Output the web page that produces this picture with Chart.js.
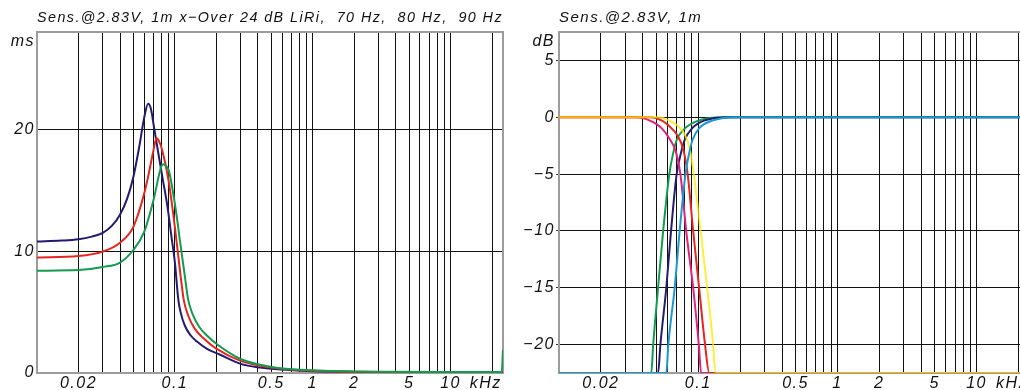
<!DOCTYPE html>
<html>
<head>
<meta charset="utf-8">
<script src="https://cdn.jsdelivr.net/npm/chart.js@4.4.0/dist/chart.umd.min.js"></script>
<style>
  html, body { margin: 0; padding: 0; background: #fff; }
  body { width: 1020px; height: 390px; overflow: hidden; position: relative; }
  canvas { position: absolute; top: 0; }
  #delayChart { left: 0; }
  #levelChart { left: 510px; }
</style>
</head>
<body>
<canvas id="delayChart" width="510" height="390"></canvas>
<canvas id="levelChart" width="510" height="390"></canvas>
<script>
// group delay (ms), one series per x-over frequency
const delayFreq70 = [10, 15, 20, 25, 30, 35, 40, 45, 50, 55, 60, 64, 67, 71, 76, 82, 88, 95, 100, 106, 110, 118, 130, 144, 170, 213, 300, 415, 600, 1000, 2000, 5000, 24000];
const delay70     = [10.8, 10.87, 10.98, 11.2, 11.5, 12.1, 13.0, 14.3, 16.1, 18.5, 21.0, 22.1, 21.7, 20.0, 18.0, 15.8, 13.8, 11.0, 9.1, 6.0, 5.0, 3.9, 3.1, 2.6, 2.0, 1.5, 0.75, 0.45, 0.28, 0.15, 0.09, 0.06, 0.05];
const delayFreq80 = [10, 20, 30, 40, 50, 60, 65, 70, 73.6, 77, 80, 90, 100, 110, 116, 125, 140, 160, 200, 300, 500, 1000, 3000, 24000];
const delay80     = [9.48, 9.6, 9.97, 10.7, 12.0, 14.75, 16.5, 18.3, 19.3, 19.0, 18.5, 15.8, 12.0, 8.0, 6.0, 4.7, 3.6, 2.9, 2.0, 1.0, 0.45, 0.18, 0.09, 0.06];
const delayFreq90 = [10, 20, 30, 40, 50, 60, 70, 80, 83, 86, 90, 100, 110, 118, 125, 135, 150, 170, 200, 300, 500, 1000, 3000, 10000, 23500, 24000];
const delay90     = [8.4, 8.45, 8.7, 9.07, 10.1, 11.6, 14.2, 17.0, 17.15, 17.0, 16.7, 13.9, 10.5, 8.0, 6.0, 4.8, 3.8, 3.1, 2.4, 1.15, 0.5, 0.22, 0.1, 0.08, 0.08, 1.9];

// level (dB): high pass and low pass branch per x-over frequency
const hpFreq70 = [10, 46, 47.5, 51.5, 56, 62, 66, 70, 80, 100, 150, 20500];
const hp70     = [-22.5, -22.5, -20, -15, -10, -5, -3.2, -2, -1, -0.3, 0, 0];
const hpFreq80 = [10, 51.5, 53.5, 59, 63.8, 70, 75, 80, 90, 110, 170, 20500];
const hp80     = [-22.5, -22.5, -20, -15, -10, -5, -3.2, -2, -1, -0.3, 0, 0];
const hpFreq90 = [10, 59, 61, 67.8, 73.6, 81, 86, 91, 101, 126, 190, 20500];
const hp90     = [-22.5, -22.5, -20, -15, -10, -5, -3.2, -2, -1, -0.3, 0, 0];
const lpFreq70 = [10, 36, 45, 55, 63, 69, 74.5, 82, 92, 101, 105, 20500];
const lp70     = [0, 0, -0.3, -1, -2, -3, -5, -10, -15, -20, -22.5, -22.5];
const lpFreq80 = [10, 45, 55, 62, 70, 78, 84, 92, 101.5, 112, 120, 20500];
const lp80     = [0, 0, -0.3, -0.8, -1.5, -2.8, -5, -10, -15, -20, -22.5, -22.5];
const lpFreq90 = [10, 52, 62, 72, 80, 87, 93, 104, 116, 128, 133, 20500];
const lp90     = [0, 0, -0.3, -0.8, -1.5, -2.8, -5, -10, -15, -20, -22.5, -22.5];

// axes
const gridFreqs = [10, 20, 30, 40, 50, 60, 70, 80, 90, 100, 200, 300, 400, 500, 600, 700, 800, 900,
  1000, 2000, 3000, 4000, 5000, 6000, 7000, 8000, 9000, 10000, 20000];
const labelFreqs = [20, 100, 500, 1000, 2000, 5000, 10000, 18000];
const labelTexts = ['0.02', '0.1', '0.5', '1', '2', '5', '10', 'kHz'];
const unitFreq = 18000;
const delayTicks = [0, 10, 20];
const delayUnitPos = 27.2;
const levelTicks = [5, 0, -5, -10, -15, -20];
const levelUnitPos = 6.7;

const pts = (xs, ys) => xs.map((x, i) => ({ x: x, y: ys[i] }));

const tickFont = { family: 'Liberation Sans, Arial, sans-serif', size: 16, style: 'italic' };
const titleFont = { family: 'Liberation Sans, Arial, sans-serif', size: 15, style: 'italic', weight: 'normal' };

const spacing = {
  id: 'spacing',
  beforeDraw(chart) { chart.ctx.letterSpacing = '1.5px'; }
};

const frame = {
  id: 'frame',
  beforeDatasetsDraw(chart, args, opts) {
    const a = chart.chartArea;
    const ctx = chart.ctx;
    ctx.save();
    ctx.strokeStyle = '#9c9c9c';
    ctx.lineWidth = 2;
    ctx.beginPath();
    if (opts.closed) {
      ctx.rect(a.left, a.top, a.right - a.left, a.bottom - a.top);
    } else {
      ctx.moveTo(a.right + 2, a.top);
      ctx.lineTo(a.left, a.top);
      ctx.lineTo(a.left, a.bottom);
      ctx.lineTo(a.right + 2, a.bottom);
    }
    ctx.stroke();
    ctx.restore();
  }
};

function freqAxis(max) {
  return {
    type: 'logarithmic',
    min: 10,
    max: max,
    afterBuildTicks: axis => {
      axis.ticks = gridFreqs.concat([unitFreq]).filter(v => v <= max).map(v => ({ value: v }));
    },
    afterFit: scale => {
      scale.height = 17;
      scale.paddingLeft = 0;
      scale.paddingRight = 0;
    },
    border: { display: false },
    grid: {
      color: c => (c.tick && c.tick.value === unitFreq) ? 'rgba(0,0,0,0)' : '#111',
      lineWidth: 1,
      drawTicks: false
    },
    ticks: {
      autoSkip: false,
      maxRotation: 0,
      padding: 1,
      color: '#111',
      font: tickFont,
      callback: v => {
        const i = labelFreqs.indexOf(v);
        return i >= 0 ? labelTexts[i] : '';
      }
    }
  };
}

function line(data, color) {
  return {
    data: data,
    borderColor: color,
    borderWidth: 2,
    pointRadius: 0,
    fill: false,
    cubicInterpolationMode: 'monotone'
  };
}

new Chart(document.getElementById('delayChart'), {
  type: 'line',
  data: {
    datasets: [
      line(pts(delayFreq90, delay90), '#139a4e'),
      line(pts(delayFreq80, delay80), '#e3261f'),
      line(pts(delayFreq70, delay70), '#231c6e')
    ]
  },
  options: {
    responsive: false,
    animation: false,
    layout: { padding: { right: 7 } },
    scales: {
      x: freqAxis(24000),
      y: {
        type: 'linear',
        min: 0,
        max: 28,
        afterBuildTicks: axis => {
          axis.ticks = delayTicks.concat([delayUnitPos]).map(v => ({ value: v }));
        },
        afterFit: scale => { scale.width = 37; },
        border: { display: false },
        grid: {
          color: c => (c.tick && c.tick.value === delayUnitPos) ? 'rgba(0,0,0,0)' : '#111',
          drawTicks: false
        },
        ticks: {
          padding: 2,
          color: '#111',
          font: tickFont,
          callback: v => v === delayUnitPos ? 'ms' : String(v)
        }
      }
    },
    plugins: {
      legend: { display: false },
      tooltip: { enabled: false },
      title: {
        display: true,
        text: 'Sens.@2.83V, 1m x\u2212Over 24 dB LiRi,  70 Hz,  80 Hz,  90 Hz',
        align: 'start',
        fullSize: false,
        color: '#111',
        font: titleFont,
        padding: { top: 9, bottom: 5 }
      },
      frame: { closed: true }
    }
  },
  plugins: [spacing, frame]
});

new Chart(document.getElementById('levelChart'), {
  type: 'line',
  data: {
    datasets: [
      line(pts(hpFreq90, hp90), '#1b98d4'),
      line(pts(lpFreq90, lp90), 'rgba(255,232,0,0.75)'),
      line(pts(lpFreq80, lp80), '#e3261f'),
      line(pts(lpFreq70, lp70), '#e0207a'),
      line(pts(hpFreq80, hp80), '#231c6e'),
      line(pts(hpFreq70, hp70), '#139a4e')
    ]
  },
  options: {
    responsive: false,
    animation: false,
    layout: { padding: { right: 0 } },
    scales: {
      x: freqAxis(20500),
      y: {
        type: 'linear',
        min: -22.5,
        max: 7.5,
        afterBuildTicks: axis => {
          axis.ticks = levelTicks.concat([levelUnitPos]).map(v => ({ value: v }));
        },
        afterFit: scale => { scale.width = 49; },
        border: { display: false },
        grid: {
          color: c => (c.tick && c.tick.value === levelUnitPos) ? 'rgba(0,0,0,0)' : '#111',
          tickColor: c => (c.tick && c.tick.value === levelUnitPos) ? 'rgba(0,0,0,0)' : '#333',
          drawTicks: true,
          tickLength: 3
        },
        ticks: {
          padding: 1,
          color: '#111',
          font: tickFont,
          callback: v => v === levelUnitPos ? 'dB' : (v < 0 ? '\u2212' + (-v) : String(v))
        }
      }
    },
    plugins: {
      legend: { display: false },
      tooltip: { enabled: false },
      title: {
        display: true,
        text: 'Sens.@2.83V, 1m',
        align: 'start',
        fullSize: false,
        color: '#111',
        font: titleFont,
        padding: { top: 9, bottom: 5 }
      },
      frame: { closed: false }
    }
  },
  plugins: [spacing, frame]
});
</script>
</body>
</html>
